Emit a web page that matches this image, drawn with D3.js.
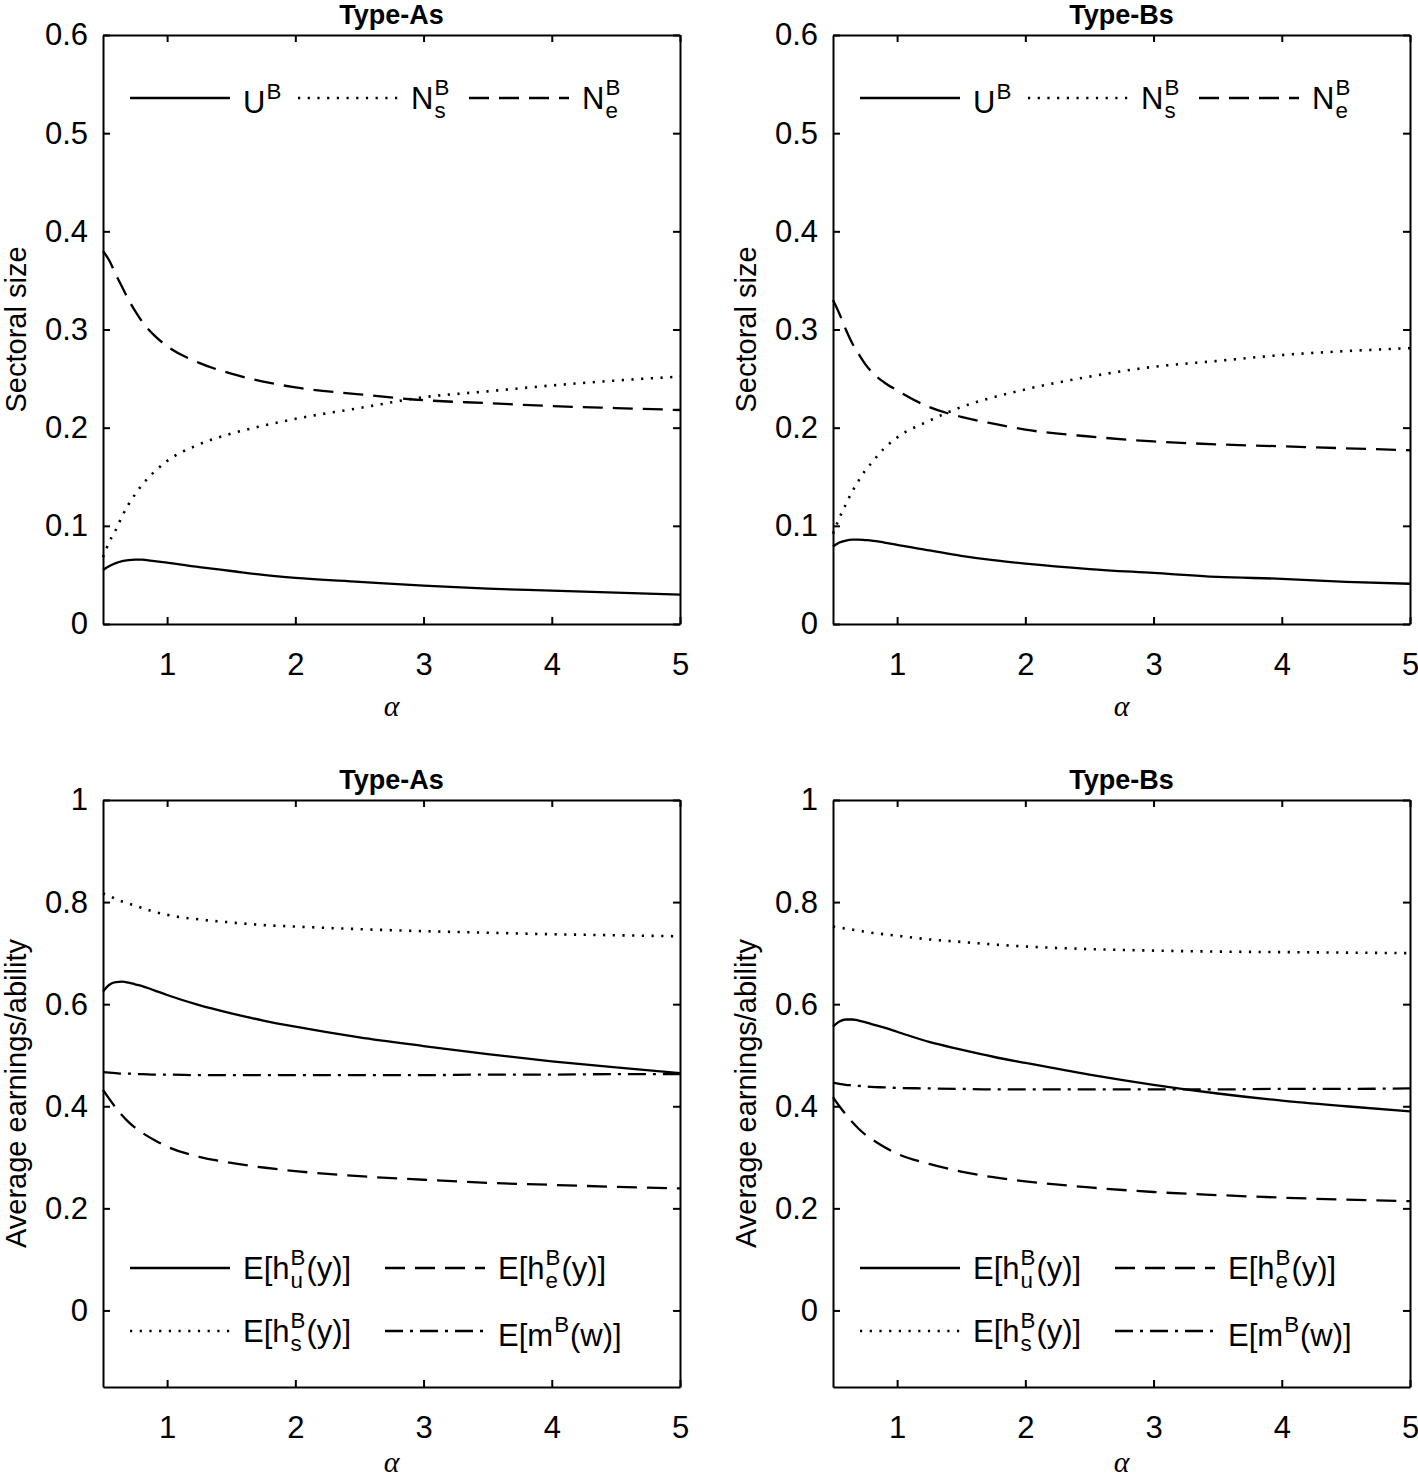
<!DOCTYPE html>
<html><head><meta charset="utf-8">
<script src="https://cdn.jsdelivr.net/npm/d3@7"></script>
<style>
body{margin:0;background:#fff;}
svg{display:block;}
text{font-family:"Liberation Sans",Arial,Helvetica,sans-serif;fill:#000;}
</style></head>
<body>
<svg id="chart" width="1418" height="1481"></svg>
<script>
// ---------- data ----------
const alpha = [0.5,0.55,0.6,0.65,0.7,0.75,0.8,0.9,1.0,1.25,1.5,1.75,2,2.5,3,3.5,4,4.5,5];

// Top-left (Type-As): sectoral sizes
const uA  = [0.055,0.059,0.062,0.064,0.065,0.0655,0.0655,0.064,0.0625,0.058,0.054,0.050,0.047,0.043,0.039,0.036,0.034,0.032,0.030];
const nsA = [0.068,0.084,0.096,0.110,0.122,0.132,0.141,0.155,0.166,0.183,0.194,0.202,0.209,0.220,0.231,0.237,0.243,0.248,0.252];
const neA = [0.380,0.370,0.356,0.343,0.330,0.319,0.309,0.294,0.283,0.266,0.255,0.247,0.241,0.234,0.228,0.225,0.222,0.220,0.218];

// Top-right (Type-Bs): sectoral sizes
const uB  = [0.079,0.083,0.085,0.086,0.086,0.0855,0.085,0.083,0.0805,0.075,0.0695,0.065,0.0615,0.056,0.052,0.048,0.046,0.043,0.041];
const nsB = [0.092,0.108,0.122,0.135,0.146,0.156,0.164,0.179,0.190,0.207,0.221,0.231,0.239,0.252,0.262,0.268,0.274,0.278,0.281];
const neB = [0.330,0.316,0.300,0.286,0.275,0.265,0.257,0.246,0.238,0.221,0.211,0.204,0.198,0.191,0.186,0.183,0.181,0.179,0.177];

// Bottom-left (Type-As): average earnings/ability
const ehuA = [0.625,0.638,0.643,0.644,0.642,0.639,0.636,0.627,0.618,0.598,0.582,0.568,0.556,0.535,0.518,0.502,0.488,0.476,0.465];
const ehsA = [0.817,0.812,0.806,0.801,0.797,0.793,0.789,0.781,0.775,0.766,0.760,0.755,0.752,0.747,0.743,0.740,0.737,0.735,0.733];
const eheA = [0.432,0.414,0.397,0.382,0.369,0.358,0.349,0.334,0.321,0.301,0.289,0.280,0.273,0.263,0.256,0.250,0.246,0.242,0.239];
const emA  = [0.467,0.466,0.465,0.464,0.464,0.463,0.463,0.462,0.462,0.461,0.461,0.461,0.461,0.461,0.461,0.462,0.462,0.463,0.463];

// Bottom-right (Type-Bs): average earnings/ability
const ehuB = [0.556,0.566,0.570,0.570,0.568,0.565,0.561,0.554,0.546,0.526,0.511,0.497,0.485,0.462,0.442,0.425,0.411,0.400,0.390];
const ehsB = [0.752,0.750,0.748,0.746,0.744,0.742,0.740,0.737,0.734,0.727,0.722,0.717,0.713,0.708,0.705,0.703,0.702,0.701,0.700];
const eheB = [0.418,0.400,0.384,0.369,0.356,0.345,0.336,0.320,0.307,0.287,0.272,0.261,0.253,0.241,0.232,0.226,0.221,0.217,0.214];
const emB  = [0.446,0.444,0.442,0.441,0.440,0.439,0.438,0.437,0.436,0.435,0.434,0.433,0.433,0.433,0.433,0.433,0.434,0.434,0.435];

const xTicks = [1,2,3,4,5];
const yTicksTop = [0,0.1,0.2,0.3,0.4,0.5,0.6];
const yTicksBottom = [0,0.2,0.4,0.6,0.8,1];
const titles = ["Type-As","Type-Bs","Type-As","Type-Bs"];
const yLabels = ["Sectoral size","Average earnings/ability"];
const xLabel = "\u03B1";

// ---------- styles ----------
const DASH = {solid:null, dotted:"2.2,7.5", dashed:"20,10", dashdot:"18,7,3,7"};
const FS = 31;

const svg = d3.select("#chart");

function richText(g, x, y, parts, fs){
  let cx = x;
  parts.forEach(p=>{
    if (typeof p === "string"){
      const t = g.append("text").attr("x",cx).attr("y",y).style("font-size",fs+"px").text(p);
      cx += t.node().getComputedTextLength();
    } else {
      let w = 0;
      const sfs = fs*0.72;
      if (p.sup){
        const t = g.append("text").attr("x",cx+1).attr("y",y-fs*0.45).style("font-size",sfs+"px").text(p.sup);
        w = Math.max(w,t.node().getComputedTextLength());
      }
      if (p.sub){
        const t = g.append("text").attr("x",cx+1).attr("y",y+fs*0.3).style("font-size",sfs+"px").text(p.sub);
        w = Math.max(w,t.node().getComputedTextLength());
      }
      cx += w + 2;
    }
  });
}

function panel(o){
  const x = d3.scaleLinear().domain([0.5,5]).range([o.x0,o.x1]);
  const y = d3.scaleLinear().domain(o.yDomain).range([o.y1,o.y0]);
  const g = svg.append("g");
  const fmt = d => (+d.toFixed(1)).toString();

  // axes
  const ax = g.append("g").attr("transform",`translate(0,${o.y1})`)
    .call(d3.axisBottom(x).tickValues(xTicks).tickFormat(fmt).tickSizeInner(-7).tickSizeOuter(0).tickPadding(29));
  const axT = g.append("g").attr("transform",`translate(0,${o.y0})`)
    .call(d3.axisTop(x).tickValues(xTicks).tickFormat("").tickSizeInner(-7).tickSizeOuter(0));
  const ay = g.append("g").attr("transform",`translate(${o.x0},0)`)
    .call(d3.axisLeft(y).tickValues(o.yTicks).tickFormat(fmt).tickSizeInner(-7).tickSizeOuter(0).tickPadding(15));
  const ayR = g.append("g").attr("transform",`translate(${o.x1},0)`)
    .call(d3.axisRight(y).tickValues(o.yTicks).tickFormat("").tickSizeInner(-7).tickSizeOuter(0));
  [ax,axT,ay,ayR].forEach(a=>{
    a.selectAll("path.domain").attr("stroke","#000").attr("stroke-width",2);
    a.selectAll(".tick line").attr("stroke","#000").attr("stroke-width",2);
    a.selectAll(".tick text").style("font-size",FS+"px").attr("fill","#000")
      .style("font-family",'"Liberation Sans",Arial,sans-serif');
  });

  // series
  const line = d3.line().x((d,i)=>x(alpha[i])).y(d=>y(d)).curve(d3.curveMonotoneX);
  o.series.forEach(s=>{
    g.append("path").datum(s.values).attr("d",line)
      .attr("fill","none").attr("stroke","#000")
      .attr("stroke-width",s.style==="dotted"?2.6:2.3)
      .attr("stroke-dasharray",DASH[s.style]);
  });

  // title
  g.append("text").attr("x",(o.x0+o.x1)/2).attr("y",o.y0-11).attr("text-anchor","middle")
    .style("font-size","27px").style("font-weight","bold").text(o.title);
  // y label
  g.append("text").attr("transform",`translate(${o.x0-77},${(o.y0+o.y1)/2}) rotate(-90)`)
    .attr("text-anchor","middle").style("font-size","29px").text(o.ylabel);
  // x label
  g.append("text").attr("x",(o.x0+o.x1)/2).attr("y",Math.min(o.y1+92,1472)).attr("text-anchor","middle")
    .style("font-family",'"Liberation Serif","Times New Roman",serif').style("font-style","italic")
    .style("font-size","30px").text(xLabel);

  // legend
  o.legend.forEach(L=>{
    const lx = o.x0 + L.dx, ly = L.y;
    g.append("line").attr("x1",lx).attr("x2",lx+100).attr("y1",ly).attr("y2",ly)
      .attr("stroke","#000").attr("stroke-width",L.style==="dotted"?2.6:2.3).attr("stroke-dasharray",DASH[L.style]);
    richText(g, lx+113, ly+11+(L.supOnly?4:0), L.parts, FS);
  });
}

const topLegend = (y)=>[
  {dx:27, y:y, style:"solid", parts:["U",{sup:"B"}], supOnly:true},
  {dx:195, y:y, style:"dotted", parts:["N",{sup:"B",sub:"s"}]},
  {dx:366, y:y, style:"dashed", parts:["N",{sup:"B",sub:"e"}]}
];
const botLegend = [
  {dx:27, y:1268, style:"solid", parts:["E[h",{sup:"B",sub:"u"},"(y)]"]},
  {dx:282, y:1268, style:"dashed", parts:["E[h",{sup:"B",sub:"e"},"(y)]"]},
  {dx:27, y:1331, style:"dotted", parts:["E[h",{sup:"B",sub:"s"},"(y)]"]},
  {dx:282, y:1331, style:"dashdot", parts:["E[m",{sup:"B"},"(w)]"], supOnly:true}
];

panel({x0:103,x1:680,y0:35,y1:624,yDomain:[0,0.6],yTicks:yTicksTop,title:titles[0],ylabel:yLabels[0],
  series:[{values:uA,style:"solid"},{values:nsA,style:"dotted"},{values:neA,style:"dashed"}],
  legend:topLegend(98)});
panel({x0:833,x1:1410,y0:35,y1:624,yDomain:[0,0.6],yTicks:yTicksTop,title:titles[1],ylabel:yLabels[0],
  series:[{values:uB,style:"solid"},{values:nsB,style:"dotted"},{values:neB,style:"dashed"}],
  legend:topLegend(98)});
panel({x0:103,x1:680,y0:800,y1:1387,yDomain:[-0.15,1],yTicks:yTicksBottom,title:titles[2],ylabel:yLabels[1],
  series:[{values:ehuA,style:"solid"},{values:ehsA,style:"dotted"},{values:eheA,style:"dashed"},{values:emA,style:"dashdot"}],
  legend:botLegend});
panel({x0:833,x1:1410,y0:800,y1:1387,yDomain:[-0.15,1],yTicks:yTicksBottom,title:titles[3],ylabel:yLabels[1],
  series:[{values:ehuB,style:"solid"},{values:ehsB,style:"dotted"},{values:eheB,style:"dashed"},{values:emB,style:"dashdot"}],
  legend:botLegend});
</script>
</body></html>
